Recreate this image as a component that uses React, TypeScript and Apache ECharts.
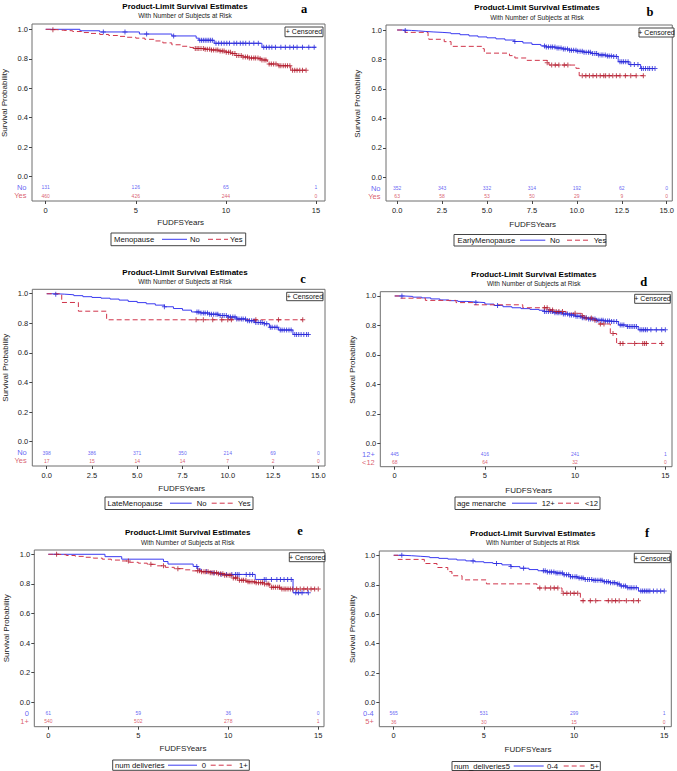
import React, { useEffect, useRef } from "react";
import * as echarts from "echarts";

type Pt = [number, number];

// ---------- Panel a : Menopause ----------
const A_GROUP = "Menopause";
const A_LEVELS = ["No", "Yes"];
const A_NO: Pt[] = [[0, 1], [1.9, 0.99], [3.0, 0.982], [5.2, 0.968], [7.0, 0.955], [8.35, 0.94], [8.5, 0.925], [9.35, 0.905], [12.0, 0.878], [15.0, 0.878]];
const A_YES: Pt[] = [[0, 1], [0.3, 0.997], [0.7, 0.993], [1.0, 0.99], [1.5, 0.985], [2.0, 0.978], [2.5, 0.972], [3.0, 0.965], [3.5, 0.958], [4.0, 0.952], [4.5, 0.946], [5.0, 0.94], [5.5, 0.932], [6.0, 0.921], [6.5, 0.908], [7.0, 0.895], [7.5, 0.885], [8.0, 0.877], [8.3, 0.87], [8.8, 0.865], [9.2, 0.86], [9.6, 0.853], [10.0, 0.845], [10.3, 0.835], [10.6, 0.822], [10.9, 0.812], [11.3, 0.805], [11.8, 0.8], [12.0, 0.792], [12.3, 0.765], [12.9, 0.753], [13.6, 0.723], [14.45, 0.723]];
const A_NO_CENS = [3.2, 4.4, 5.6, 7.1, 8.55, 8.65, 8.75, 8.85, 8.95, 9.05, 9.15, 9.25, 9.45, 9.6, 9.75, 9.9, 10.05, 10.2, 10.45, 10.6, 10.8, 10.95, 11.1, 11.3, 11.55, 11.8, 12.1, 12.25, 12.4, 12.55, 12.75, 13.05, 13.3, 13.55, 13.75, 13.95, 14.25, 14.6, 14.9];
const A_YES_CENS = [0.4, 8.3, 8.4, 8.5, 8.62, 8.75, 8.85, 8.97, 9.1, 9.2, 9.32, 9.45, 9.55, 9.68, 9.8, 9.9, 10.02, 10.15, 10.25, 10.38, 10.5, 10.6, 10.72, 10.85, 10.95, 11.08, 11.2, 11.3, 11.42, 11.55, 11.65, 11.78, 11.9, 12.0, 12.12, 12.22, 12.4, 12.52, 12.65, 12.78, 12.95, 13.05, 13.18, 13.3, 13.42, 13.55, 13.7, 13.82, 13.95, 14.1, 14.25, 14.45];
const A_RISK_T = [0, 5, 10, 15];
const A_RISK_1 = [131, 126, 65, 1];
const A_RISK_2 = [460, 426, 244, 0];

// ---------- Panel b : EarlyMenopause ----------
const B_GROUP = "EarlyMenopause";
const B_LEVELS = ["No", "Yes"];
const B_NO: Pt[] = [[0, 1], [0.4, 0.997], [0.8, 0.994], [1.2, 0.99], [1.6, 0.987], [2.0, 0.984], [2.5, 0.98], [3.0, 0.975], [3.5, 0.968], [4.0, 0.96], [4.5, 0.953], [5.0, 0.947], [5.5, 0.94], [6.0, 0.932], [6.5, 0.922], [7.0, 0.912], [7.5, 0.902], [8.0, 0.892], [8.3, 0.885], [8.8, 0.878], [9.2, 0.871], [9.6, 0.862], [10.0, 0.856], [10.4, 0.849], [10.8, 0.84], [11.2, 0.831], [11.6, 0.824], [12.0, 0.82], [12.3, 0.785], [12.9, 0.765], [13.55, 0.738], [14.35, 0.738]];
const B_YES: Pt[] = [[0, 1], [0.44, 0.984], [1.72, 0.952], [1.76, 0.937], [2.62, 0.921], [3.0, 0.889], [4.78, 0.873], [4.85, 0.843], [6.25, 0.826], [6.55, 0.81], [7.2, 0.794], [8.35, 0.778], [8.45, 0.762], [9.95, 0.74], [10.13, 0.69], [13.7, 0.69]];
const B_NO_CENS = [0.45, 6.55, 8.2, 8.3, 8.42, 8.55, 8.65, 8.78, 8.9, 9.0, 9.12, 9.25, 9.35, 9.48, 9.6, 9.7, 9.82, 9.95, 10.05, 10.18, 10.3, 10.4, 10.52, 10.65, 10.75, 10.88, 11.0, 11.1, 11.22, 11.35, 11.45, 11.58, 11.7, 11.8, 11.92, 12.05, 12.2, 12.4, 12.5, 12.6, 12.72, 12.85, 13.0, 13.2, 13.4, 13.6, 13.7, 13.82, 13.95, 14.05, 14.2, 14.35];
const B_YES_CENS = [8.35, 8.6, 8.8, 9.0, 9.3, 9.5, 10.3, 10.5, 10.7, 10.9, 11.1, 11.3, 11.5, 11.6, 11.8, 12.0, 12.2, 12.4, 12.7, 13.0, 13.3, 13.7];
const B_RISK_T = [0, 2.5, 5, 7.5, 10, 12.5, 15];
const B_RISK_1 = [352, 343, 332, 314, 192, 62, 0];
const B_RISK_2 = [63, 58, 53, 50, 29, 9, 0];

// ---------- Panel c : LateMenopause ----------
const C_GROUP = "LateMenopause";
const C_LEVELS = ["No", "Yes"];
const C_NO: Pt[] = [[0, 1], [0.5, 0.997], [1.0, 0.993], [1.5, 0.987], [2.0, 0.98], [2.5, 0.975], [3.0, 0.97], [3.5, 0.964], [4.0, 0.957], [4.5, 0.948], [5.0, 0.94], [5.5, 0.932], [6.0, 0.923], [6.5, 0.912], [7.0, 0.9], [7.5, 0.889], [8.0, 0.877], [8.5, 0.87], [9.0, 0.862], [9.5, 0.853], [10.0, 0.843], [10.5, 0.83], [11.0, 0.818], [11.5, 0.805], [12.0, 0.797], [12.3, 0.773], [12.8, 0.755], [13.6, 0.725], [14.45, 0.725]];
const C_YES: Pt[] = [[0, 1], [0.83, 0.941], [1.75, 0.882], [3.31, 0.824], [14.14, 0.824]];
const C_NO_CENS = [0.5, 6.5, 8.3, 8.4, 8.52, 8.65, 8.75, 8.88, 9.0, 9.1, 9.22, 9.35, 9.45, 9.58, 9.7, 9.8, 9.92, 10.05, 10.15, 10.28, 10.4, 10.5, 10.62, 10.75, 10.85, 10.98, 11.1, 11.2, 11.32, 11.45, 11.55, 11.68, 11.8, 11.9, 12.02, 12.15, 12.35, 12.45, 12.6, 12.72, 12.9, 13.0, 13.12, 13.25, 13.38, 13.5, 13.7, 13.8, 13.92, 14.05, 14.2, 14.35, 14.45];
const C_YES_CENS = [8.25, 8.65, 9.17, 9.67, 10.0, 10.2, 11.55, 12.8, 14.14];
const C_RISK_T = [0, 2.5, 5, 7.5, 10, 12.5, 15];
const C_RISK_1 = [398, 386, 371, 350, 214, 69, 0];
const C_RISK_2 = [17, 15, 14, 14, 7, 2, 0];

// ---------- Panel d : age menarche ----------
const D_GROUP = "age menarche";
const D_LEVELS = ["12+", "<12"];
const D_12P: Pt[] = [[0, 1], [0.5, 0.997], [1.0, 0.992], [1.5, 0.987], [2.0, 0.98], [2.5, 0.973], [3.0, 0.968], [3.5, 0.963], [4.0, 0.959], [4.5, 0.955], [5.0, 0.945], [5.5, 0.936], [6.0, 0.927], [6.5, 0.92], [7.0, 0.914], [7.5, 0.909], [8.0, 0.903], [8.3, 0.894], [8.8, 0.886], [9.3, 0.878], [9.7, 0.871], [10.0, 0.862], [10.4, 0.852], [10.7, 0.844], [11.2, 0.836], [11.6, 0.83], [12.0, 0.826], [12.4, 0.803], [12.87, 0.792], [13.5, 0.77], [15.0, 0.77]];
const D_LT12: Pt[] = [[0, 1], [0.3, 0.985], [1.7, 0.97], [3.4, 0.955], [4.4, 0.94], [7.1, 0.92], [8.5, 0.905], [8.9, 0.895], [9.5, 0.882], [10.35, 0.866], [10.5, 0.85], [11.1, 0.835], [11.25, 0.81], [11.95, 0.745], [12.3, 0.678], [14.8, 0.678]];
const D_12P_CENS = [0.4, 4.5, 5.7, 8.3, 8.4, 8.52, 8.65, 8.75, 8.88, 9.0, 9.1, 9.22, 9.35, 9.45, 9.58, 9.7, 9.8, 9.92, 10.05, 10.15, 10.28, 10.4, 10.5, 10.62, 10.75, 10.85, 10.98, 11.1, 11.2, 11.32, 11.45, 11.55, 11.68, 11.8, 11.9, 12.02, 12.15, 12.3, 12.5, 12.6, 12.7, 12.9, 13.0, 13.1, 13.2, 13.3, 13.4, 13.6, 13.7, 13.8, 13.9, 14.0, 14.2, 14.5, 14.8, 15.0];
const D_LT12_CENS = [8.3, 8.45, 8.6, 8.75, 8.95, 9.1, 9.3, 10.0, 10.4, 10.6, 10.9, 11.1, 11.4, 11.6, 12.1, 12.5, 12.65, 13.3, 13.75, 13.85, 13.95, 14.8];
const D_RISK_T = [0, 5, 10, 15];
const D_RISK_1 = [445, 416, 241, 1];
const D_RISK_2 = [68, 64, 32, 0];

// ---------- Panel e : num deliveries ----------
const E_GROUP = "num deliveries";
const E_LEVELS = ["0", "1+"];
const E_0: Pt[] = [[0, 1], [3.15, 0.984], [4.08, 0.967], [6.4, 0.951], [6.65, 0.934], [8.05, 0.918], [8.3, 0.9], [8.5, 0.884], [9.1, 0.874], [9.6, 0.864], [11.5, 0.83], [13.6, 0.74], [14.45, 0.74]];
const E_1P: Pt[] = [[0, 1], [0.5, 0.997], [1.0, 0.992], [1.5, 0.986], [2.0, 0.98], [2.5, 0.974], [3.0, 0.967], [3.5, 0.961], [4.0, 0.955], [4.5, 0.946], [5.0, 0.94], [5.5, 0.932], [6.0, 0.922], [6.5, 0.912], [7.0, 0.903], [7.5, 0.895], [8.0, 0.888], [8.5, 0.882], [9.0, 0.876], [9.4, 0.869], [9.8, 0.858], [10.2, 0.84], [10.6, 0.825], [11.0, 0.814], [11.5, 0.808], [12.0, 0.8], [12.3, 0.777], [12.87, 0.766], [15.0, 0.766]];
const E_0_CENS = [8.25, 8.8, 9.2, 9.6, 9.9, 10.2, 10.4, 10.5, 10.6, 11.0, 11.2, 11.35, 12.0, 12.1, 12.4, 12.7, 12.9, 13.1, 13.3, 13.5, 13.75, 13.9, 14.1, 14.45];
const E_1P_CENS = [0.46, 4.45, 5.7, 6.4, 7.2, 8.3, 8.4, 8.52, 8.65, 8.75, 8.88, 9.0, 9.1, 9.22, 9.35, 9.45, 9.58, 9.7, 9.8, 9.92, 10.05, 10.15, 10.28, 10.4, 10.5, 10.62, 10.75, 10.85, 10.98, 11.1, 11.2, 11.32, 11.45, 11.55, 11.68, 11.8, 11.9, 12.02, 12.15, 12.25, 12.4, 12.5, 12.62, 12.75, 12.85, 12.98, 13.1, 13.2, 13.32, 13.45, 13.58, 13.8, 14.0, 14.2, 14.4, 14.6, 14.8, 15.0];
const E_RISK_T = [0, 5, 10, 15];
const E_RISK_1 = [61, 59, 36, 0];
const E_RISK_2 = [540, 502, 278, 1];

// ---------- Panel f : num_deliveries5 ----------
const F_GROUP = "num_deliveries5";
const F_LEVELS = ["0-4", "5+"];
const F_04: Pt[] = [[0, 1], [0.5, 0.997], [1.0, 0.993], [1.5, 0.989], [2.0, 0.984], [2.5, 0.979], [3.0, 0.974], [3.5, 0.968], [4.0, 0.962], [4.5, 0.956], [5.0, 0.95], [5.5, 0.944], [6.0, 0.935], [6.5, 0.923], [7.0, 0.912], [7.5, 0.903], [8.0, 0.895], [8.5, 0.887], [9.0, 0.879], [9.4, 0.868], [9.8, 0.855], [10.2, 0.845], [10.6, 0.836], [11.0, 0.83], [11.6, 0.821], [12.0, 0.814], [12.38, 0.805], [12.56, 0.792], [12.93, 0.78], [13.57, 0.757], [15.0, 0.757]];
const F_5P: Pt[] = [[0, 1], [0.24, 0.972], [1.7, 0.944], [2.4, 0.917], [3.0, 0.889], [3.23, 0.861], [3.79, 0.833], [5.14, 0.806], [7.94, 0.778], [9.33, 0.742], [10.35, 0.692], [13.57, 0.692]];
const F_04_CENS = [0.45, 4.4, 5.7, 6.5, 7.2, 8.3, 8.4, 8.52, 8.65, 8.75, 8.88, 9.0, 9.1, 9.22, 9.35, 9.45, 9.58, 9.7, 9.8, 9.92, 10.05, 10.15, 10.28, 10.4, 10.5, 10.62, 10.75, 10.85, 10.98, 11.1, 11.2, 11.32, 11.45, 11.55, 11.68, 11.8, 11.9, 12.02, 12.15, 12.25, 12.4, 12.5, 12.62, 12.75, 12.85, 12.98, 13.1, 13.2, 13.32, 13.45, 13.7, 13.8, 13.9, 14.0, 14.1, 14.2, 14.4, 14.6, 14.8, 15.0];
const F_5P_CENS = [8.1, 8.4, 8.7, 8.9, 9.1, 9.4, 9.6, 9.8, 10.0, 10.2, 10.5, 10.9, 11.2, 11.9, 12.1, 12.3, 12.5, 12.9, 13.3, 13.57];
const F_RISK_T = [0, 5, 10, 15];
const F_RISK_1 = [565, 531, 299, 1];
const F_RISK_2 = [36, 30, 15, 0];

const Y_TICKS = [0, 0.2, 0.4, 0.6, 0.8, 1.0];
const TITLE = "Product-Limit Survival Estimates";
const SUBTITLE = "With Number of Subjects at Risk";
const X_TITLE = "FUDFSYears";
const Y_TITLE = "Survival Probability";
const CENSORED = "+ Censored";

const PANEL_DATA = [
  { group: A_GROUP, levels: A_LEVELS, curves: [A_NO, A_YES], cens: [A_NO_CENS, A_YES_CENS], riskT: A_RISK_T, risk: [A_RISK_1, A_RISK_2] },
  { group: B_GROUP, levels: B_LEVELS, curves: [B_NO, B_YES], cens: [B_NO_CENS, B_YES_CENS], riskT: B_RISK_T, risk: [B_RISK_1, B_RISK_2] },
  { group: C_GROUP, levels: C_LEVELS, curves: [C_NO, C_YES], cens: [C_NO_CENS, C_YES_CENS], riskT: C_RISK_T, risk: [C_RISK_1, C_RISK_2] },
  { group: D_GROUP, levels: D_LEVELS, curves: [D_12P, D_LT12], cens: [D_12P_CENS, D_LT12_CENS], riskT: D_RISK_T, risk: [D_RISK_1, D_RISK_2] },
  { group: E_GROUP, levels: E_LEVELS, curves: [E_0, E_1P], cens: [E_0_CENS, E_1P_CENS], riskT: E_RISK_T, risk: [E_RISK_1, E_RISK_2] },
  { group: F_GROUP, levels: F_LEVELS, curves: [F_04, F_5P], cens: [F_04_CENS, F_5P_CENS], riskT: F_RISK_T, risk: [F_RISK_1, F_RISK_2] },
];

// ---------- layout (positions / styles) ----------
const LAYOUT = [
  { letter: "a", grid: [32, 24, 325, 201], xr: [-0.76, 15.5], yr: [-0.165, 1.036], dec: 0, title: [185, 6.7, 15.7], lp: [304, 9], yt: [4.5, 103], xt: [180.7, 222.7], cb: [285, 27, 323, 36.7],
    lg: { box: [111, 233, 245.7, 245.7], lx: 114, l1: [162, 187], t1: 190, l2: [208, 228], t2: 230, cy: 239.3 } },
  { letter: "b", grid: [386, 25, 676, 201], xr: [-0.62, 15.31], yr: [-0.161, 1.034], dec: 1, title: [537, 7.3, 17.3], lp: [650, 11.7], yt: [357, 103.7], xt: [532.7, 224], cb: [639, 28, 674, 37],
    lg: { box: [454, 234.5, 606, 246], lx: 457.5, l1: [520, 545.3], t1: 550, l2: [567, 590], t2: 593.7, cy: 240.2 } },
  { letter: "c", grid: [32.3, 289.3, 325, 466], xr: [-0.795, 15.37], yr: [-0.164, 1.03], dec: 1, title: [185, 272.3, 281.7], lp: [303, 279], yt: [5.5, 367.7], xt: [181.7, 488.3], cb: [286.7, 292.3, 323, 300.7],
    lg: { box: [105, 497, 253, 509.5], lx: 107.5, l1: [170, 191.7], t1: 196.7, l2: [211.7, 235], t2: 238, cy: 503.2 } },
  { letter: "d", grid: [380.3, 291.7, 672, 466.7], xr: [-0.798, 15.37], yr: [-0.159, 1.029], dec: 0, title: [533.7, 274.3, 283.7], lp: [643.7, 282.3], yt: [352.7, 369.7], xt: [528.7, 490], cb: [634.7, 294.3, 670.3, 303.3],
    lg: { box: [455, 497, 600, 509.5], lx: 457, l1: [512, 537], t1: 541.7, l2: [558, 582], t2: 585, cy: 503.2 } },
  { letter: "e", grid: [34.3, 550, 324, 726.7], xr: [-0.778, 15.32], yr: [-0.165, 1.029], dec: 0, title: [187.7, 532.7, 542], lp: [300, 531], yt: [6.3, 628.3], xt: [183, 748.3], cb: [289.3, 552.7, 325, 561.7],
    lg: { box: [112.7, 760, 249.3, 770.3], lx: 115, l1: [168, 197], t1: 201.7, l2: [210.7, 233], t2: 239, cy: 765.2 } },
  { letter: "f", grid: [379.3, 551, 671.3, 726.7], xr: [-0.798, 15.39], yr: [-0.163, 1.029], dec: 0, title: [532.7, 533.3, 542.7], lp: [647, 533.3], yt: [352.7, 629], xt: [528, 749.3], cb: [634.3, 553.3, 670.3, 562.7],
    lg: { box: [452, 761.5, 600.3, 770.5], lx: 454, l1: [513.7, 543.7], t1: 547, l2: [563.7, 587], t2: 590.3, cy: 766 } },
];

const FONT = '"Liberation Sans", Arial, Helvetica, sans-serif';
const SERIF = '"Liberation Serif", "Times New Roman", serif';
const BLUE = "#3a3af0";
const BLUE_M = "#2a2ad8";
const RED = "#d0344a";
const RED_M = "#b01a2c";
const FRAME = "#6e6e6e";
const PLUS = "path://M2,0H3V2H5V3H3V5H2V3H0V2H2Z";
const ROW_Y = [-0.073, -0.129];

function survAt(curve: Pt[], t: number): number {
  let s = curve[0][1];
  for (const [tt, ss] of curve) if (tt <= t) s = ss;
  return s;
}

function text(x: number, y: number, str: string, size: number, extra: any = {}) {
  return {
    type: "text", x, y, silent: true, z: 10,
    style: { text: str, fontSize: size, fontFamily: FONT, fill: "#111", textAlign: "left", textVerticalAlign: "middle", ...extra },
  };
}

export default function App() {
  const ref = useRef<HTMLDivElement>(null);
  useEffect(() => {
    if (!ref.current) return;
    const chart = echarts.init(ref.current, undefined, { renderer: "svg" });
    const grids: any[] = [];
    const xAxes: any[] = [];
    const yAxes: any[] = [];
    const series: any[] = [];
    const graphics: any[] = [];
    const colors = [BLUE, RED];
    const markColors = [BLUE_M, RED_M];

    LAYOUT.forEach((L, i) => {
      const P = PANEL_DATA[i];
      const [gl, gt, gr, gb] = L.grid;
      grids.push({ left: gl, top: gt, width: gr - gl, height: gb - gt, show: true, borderColor: FRAME, borderWidth: 1, backgroundColor: "transparent" });
      const xt = P.riskT;
      xAxes.push({
        type: "value", gridIndex: i, min: L.xr[0], max: L.xr[1],
        axisLine: { show: false, onZero: false }, splitLine: { show: false },
        axisTick: { show: true, customValues: xt, length: 3, lineStyle: { color: "#444", width: 1 } },
        axisLabel: { customValues: xt, margin: 5, fontSize: 7.5, fontFamily: FONT, color: "#222", formatter: (v: number) => (L.dec ? v.toFixed(1) : String(v)) },
      });
      yAxes.push({
        type: "value", gridIndex: i, min: L.yr[0], max: L.yr[1],
        axisLine: { show: false, onZero: false }, splitLine: { show: false },
        axisTick: { show: true, customValues: Y_TICKS, length: 3, lineStyle: { color: "#444", width: 1 } },
        axisLabel: { customValues: Y_TICKS, margin: 4, fontSize: 7.5, fontFamily: FONT, color: "#222", formatter: (v: number) => v.toFixed(1) },
      });
      // survival curves
      P.curves.forEach((c, k) => {
        series.push({
          type: "line", xAxisIndex: i, yAxisIndex: i, data: c, step: "end", symbol: "none", silent: true, z: 2 + k,
          lineStyle: { color: colors[k], width: 1, type: k === 1 ? [5, 3] : "solid" },
        });
      });
      // censor marks
      P.cens.forEach((ts, k) => {
        series.push({
          type: "scatter", xAxisIndex: i, yAxisIndex: i, symbol: PLUS, symbolSize: 5, silent: true, z: 4 + k,
          itemStyle: { color: markColors[k] },
          data: ts.map((t) => [t, survAt(P.curves[k], t)]),
        });
      });
      // numbers at risk
      P.risk.forEach((row, k) => {
        series.push({
          type: "scatter", xAxisIndex: i, yAxisIndex: i, symbolSize: 1, silent: true, clip: false,
          itemStyle: { color: "transparent" },
          label: { show: true, position: "inside", fontSize: 5, fontFamily: FONT, color: colors[k], formatter: (p: any) => String(p.value[2]) },
          data: P.riskT.map((t, j) => [t, ROW_Y[k], row[j]]),
        });
        series.push({
          type: "scatter", xAxisIndex: i, yAxisIndex: i, symbolSize: 1, silent: true, clip: false,
          itemStyle: { color: "transparent" },
          label: { show: true, position: "left", distance: 5, fontSize: 7.5, fontFamily: FONT, color: colors[k], formatter: () => P.levels[k] },
          data: [[L.xr[0], ROW_Y[k]]],
        });
      });

      // texts
      graphics.push(text(L.title[0], L.title[1], TITLE, 8, { textAlign: "center", fontWeight: "bold", fill: "#000" }));
      graphics.push(text(L.title[0], L.title[2], SUBTITLE, 6.5, { textAlign: "center", fill: "#222" }));
      graphics.push(text(L.lp[0], L.lp[1], L.letter, 12.5, { textAlign: "center", fontWeight: "bold", fontFamily: SERIF, fill: "#000" }));
      graphics.push({ ...text(L.yt[0], L.yt[1], Y_TITLE, 8, { textAlign: "center", fill: "#222" }), rotation: Math.PI / 2 });
      graphics.push(text(L.xt[0], L.xt[1], X_TITLE, 8, { textAlign: "center", fill: "#222" }));
      // censored box
      const [cx0, cy0, cx1, cy1] = L.cb;
      graphics.push({ type: "rect", silent: true, z: 9, shape: { x: cx0, y: cy0, width: cx1 - cx0, height: cy1 - cy0 }, style: { fill: "#fff", stroke: "#444", lineWidth: 1 } });
      graphics.push(text((cx0 + cx1) / 2, (cy0 + cy1) / 2, CENSORED, 7, { textAlign: "center" }));
      // legend
      const g = L.lg;
      graphics.push({ type: "rect", silent: true, z: 9, shape: { x: g.box[0], y: g.box[1], width: g.box[2] - g.box[0], height: g.box[3] - g.box[1] }, style: { fill: "#fff", stroke: "#444", lineWidth: 1 } });
      graphics.push(text(g.lx, g.cy, P.group, 7.7));
      graphics.push({ type: "line", silent: true, z: 10, shape: { x1: g.l1[0], y1: g.cy, x2: g.l1[1], y2: g.cy }, style: { stroke: BLUE, lineWidth: 1 } });
      graphics.push(text(g.t1, g.cy, P.levels[0], 7.7));
      graphics.push({ type: "line", silent: true, z: 10, shape: { x1: g.l2[0], y1: g.cy, x2: g.l2[1], y2: g.cy }, style: { stroke: RED, lineWidth: 1, lineDash: [5, 3] } });
      graphics.push(text(g.t2, g.cy, P.levels[1], 7.7));
    });

    chart.setOption({
      animation: false,
      backgroundColor: "#fff",
      grid: grids,
      xAxis: xAxes,
      yAxis: yAxes,
      series,
      graphic: graphics,
    });
    return () => chart.dispose();
  }, []);
  return <div ref={ref} style={{ position: "fixed", left: 0, top: 0, width: 677, height: 771, background: "#fff" }} />;
}
